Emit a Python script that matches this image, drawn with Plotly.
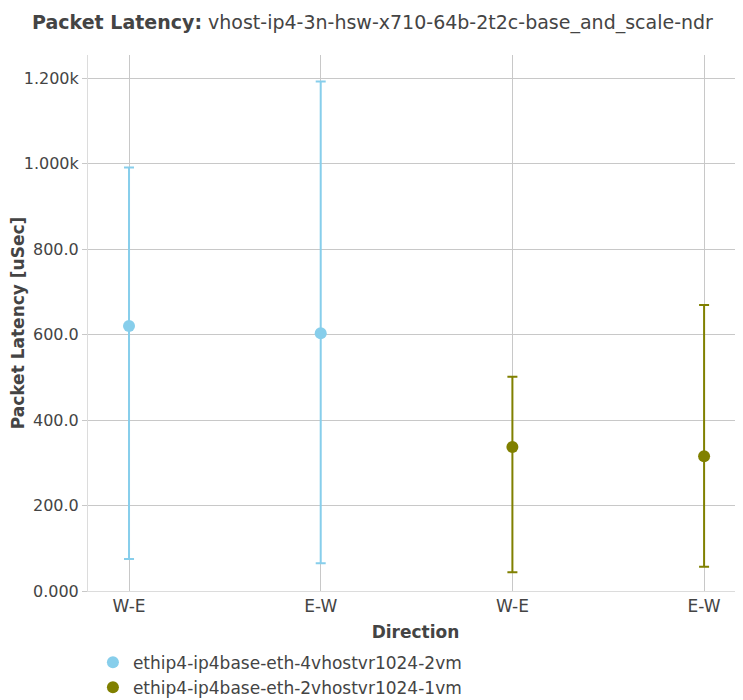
import plotly.graph_objects as go

tick_labels = ["W-E", "E-W", "W-E", "E-W"]
series_names = ["ethip4-ip4base-eth-4vhostvr1024-2vm", "ethip4-ip4base-eth-2vhostvr1024-1vm"]
series_x = [[0, 1], [2, 3]]
series_avg = [[620, 603], [337, 315]]
series_max = [[991, 1192], [501, 669]]
series_min = [[75, 65], [44, 57]]
colors = ["#87CEEB", "#808000"]

fig = go.Figure()
for name, xs, avg, mx, mn, col in zip(series_names, series_x, series_avg, series_max, series_min, colors):
    fig.add_trace(go.Scatter(
        x=xs, y=avg, name=name, mode="markers",
        marker=dict(color=col, size=12),
        error_y=dict(type="data", symmetric=False,
                     array=[a - b for a, b in zip(mx, avg)],
                     arrayminus=[b - c for b, c in zip(avg, mn)],
                     color=col, thickness=2, width=5),
    ))

font_family = "DejaVu Sans"
fig.update_layout(
    width=743, height=700,
    paper_bgcolor="white", plot_bgcolor="white",
    font=dict(family=font_family, size=16, color="rgb(68,68,68)"),
    title=dict(text="<b>Packet Latency:</b> vhost-ip4-3n-hsw-x710-64b-2t2c-base_and_scale-ndr",
               x=0.4906, xanchor="center", y=0.98, yanchor="middle", font=dict(size=19)),
    margin=dict(l=80, r=8, t=47, b=117, autoexpand=False),
    showlegend=True,
    legend=dict(orientation="v", x=0.0075, y=-0.1, xanchor="left", yanchor="top",
                font=dict(size=17)),
    xaxis=dict(title=dict(text="<b>Direction</b>", font=dict(size=17), standoff=10),
               tickmode="array", tickvals=[0, 1, 2, 3], ticktext=tick_labels,
               range=[-0.214, 3.203], showgrid=True, gridcolor="rgb(200,200,200)",
               showline=True, linecolor="rgb(220,220,220)", zeroline=False,
               automargin=False, tickfont=dict(size=17)),
    yaxis=dict(title=dict(text="<b>Packet Latency [uSec]</b>", font=dict(size=17)),
               tickformat=".4s", dtick=200, range=[0, 1254],
               showgrid=True, gridcolor="rgb(200,200,200)",
               showline=True, linecolor="rgb(220,220,220)", zeroline=False,
               ticks="outside", ticklen=5, tickcolor="rgb(200,200,200)",
               automargin=False, tickfont=dict(size=16)),
)

fig.write_html("out.html")
